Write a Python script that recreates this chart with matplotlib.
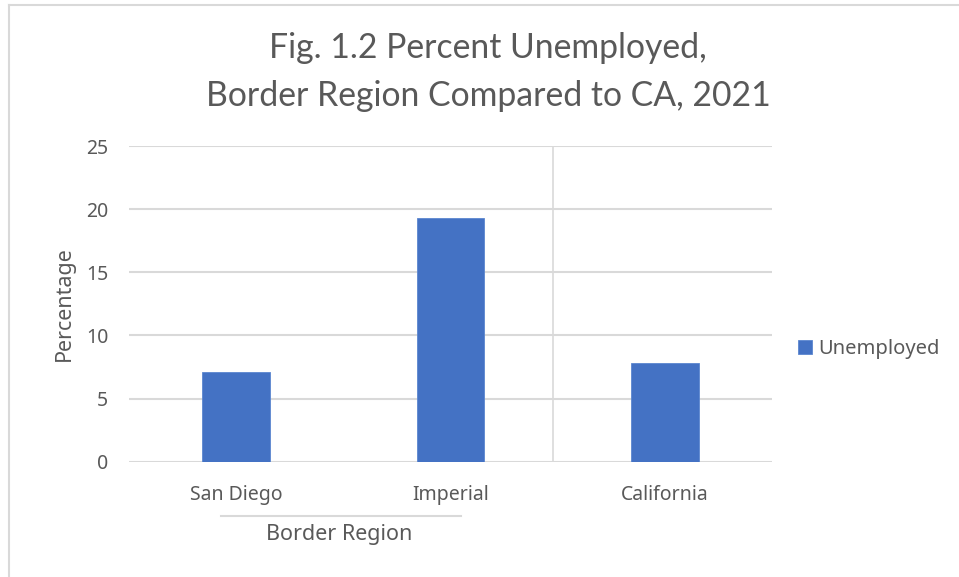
import matplotlib
matplotlib.use("Agg")
import matplotlib.pyplot as plt
from matplotlib.lines import Line2D
import matplotlib.transforms as mtransforms

categories = ["San Diego", "Imperial", "California"]
unemployed = [7.1, 19.3, 7.8]
yticks = [0, 5, 10, 15, 20, 25]
group_label = "Border Region"
group_members = ["San Diego", "Imperial"]
series_name = "Unemployed"
title = "Fig. 1.2 Percent Unemployed,\nBorder Region Compared to CA, 2021"
ylabel = "Percentage"

TXT = "#595959"
GRID = "#D9D9D9"
BAR = "#4472C4"
FONT = ["Noto Sans", "DejaVu Sans"]
TFONT = ["Lato", "DejaVu Sans"]

plt.rcParams['font.family'] = FONT

W, H = 959, 577
fig = plt.figure(figsize=(W / 100, H / 100), dpi=100)
fig.patch.set_facecolor("white")

# outer chart frame (partially visible)
fig.add_artist(Line2D([8.5 / W, 8.5 / W], [0, 1 - 4.5 / H], color=GRID, lw=1.5))
fig.add_artist(Line2D([8.5 / W, 1], [1 - 4.5 / H, 1 - 4.5 / H], color=GRID, lw=1.5))

left, right = 129 / W, 772 / W
bottom, top = 1 - 461.7 / H, 1 - 146 / H
ax = fig.add_axes([left, bottom, right - left, top - bottom])

x = list(range(len(categories)))
ax.bar(x, unemployed, width=0.315, color=BAR, edgecolor="#5B86D0", linewidth=0.6,
       label=series_name, zorder=3)
ax.set_xlim(-0.5, len(categories) - 0.5)
ax.set_ylim(0, 25)
ax.set_yticks(yticks)
ax.set_yticklabels([str(v) for v in yticks])
ax.yaxis.grid(True, color=GRID, lw=1.5, zorder=0)
ax.set_axisbelow(True)
for s in ax.spines.values():
    s.set_visible(False)
ax.tick_params(axis="both", length=0, colors=TXT, labelsize=14)
ax.tick_params(axis="y", pad=15)
ax.tick_params(axis="x", pad=17)
ax.set_xticks(x)
ax.set_xticklabels(categories)

# separator between group and ungrouped category
ax.axvline(len(group_members) - 0.52, color=GRID, lw=1.2, zorder=1)

# group label with line
gidx = [categories.index(c) for c in group_members]
gc = sum(gidx) / len(gidx)
trans = mtransforms.blended_transform_factory(ax.transData, ax.transAxes)
ax.add_line(Line2D([gc - 0.57, gc + 0.55], [-54.2 / (461.7 - 146)] * 2, transform=trans,
                   color=GRID, lw=1.5, clip_on=False))
ax.text(gc - 0.02, -73 / (461.7 - 146), group_label, transform=trans, ha="center", va="center",
        color=TXT, fontsize=15.5)

ax.set_ylabel(ylabel, color=TXT, fontsize=15.5, labelpad=8)

fig.text(488 / W, 1 - 72 / H, title, ha="center", va="center", color=TXT,
         fontsize=24.3, linespacing=1.6, family=TFONT)

leg = ax.legend(loc="center left", bbox_to_anchor=(788 / W, 1 - 349 / H),
                bbox_transform=fig.transFigure, frameon=False, fontsize=14.5,
                handlelength=0.7, handleheight=0.7, handletextpad=0.3, borderpad=0)
for t in leg.get_texts():
    t.set_color(TXT)

fig.savefig("out.png", dpi=100, facecolor="white")
